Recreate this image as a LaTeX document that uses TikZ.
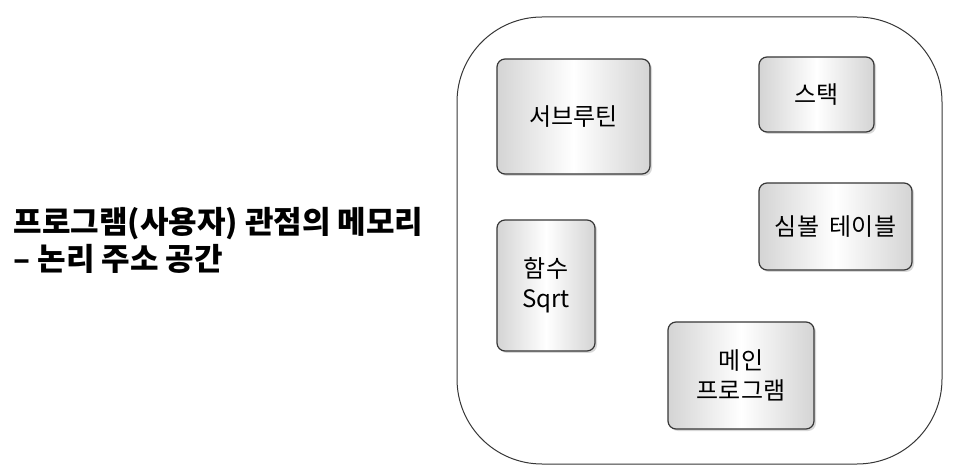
\documentclass[tikz,border=0pt]{standalone}
\usepackage{fontspec}
\setmainfont{Noto Sans CJK KR}
\usepackage{tikz}
\usetikzlibrary{shadows}
\definecolor{edgegray}{RGB}{212,212,212}
\definecolor{framegray}{RGB}{55,55,55}

\tikzset{
  membox/.style={draw=framegray, line width=1.2pt, rounded corners=8pt,
    left color=edgegray, right color=edgegray, middle color=white,
    drop shadow={shadow xshift=2pt, shadow yshift=-2pt, fill=black!30},
    align=center, inner sep=0pt},
  boxfont/.style={font=\fontsize{24}{30}\selectfont}
}

\begin{document}
\begin{tikzpicture}[x=1pt, y=-1pt]
\useasboundingbox (0,0) rectangle (964,470);
% address space
\node[draw=framegray, line width=1pt, rounded corners=85pt, minimum width=485pt, minimum height=447pt] (space) at (699.5,240.5) {};
\node[anchor=west, align=left, font=\bfseries\fontsize{31}{37}\selectfont] (title) at (10,240) {프로그램(사용자) 관점의 메모리\\– 논리 주소 공간};
\foreach \nm/\cx/\cy/\w/\h/\txt in {
  sub/573.5/116.5/153/115/{서브루틴},
  stack/816.5/94.5/115/75/{스택},
  symtab/835.5/226.5/153/87/{심볼\ \ 테이블},
  sqrt/546/285.5/98/131/{함수\\Sqrt},
  main/741/375.5/146/107/{메인\\프로그램}} {
  \node[membox, boxfont, minimum width=\w pt, minimum height=\h pt] (\nm) at (\cx,\cy) {\txt};
}
\end{tikzpicture}
\end{document}
